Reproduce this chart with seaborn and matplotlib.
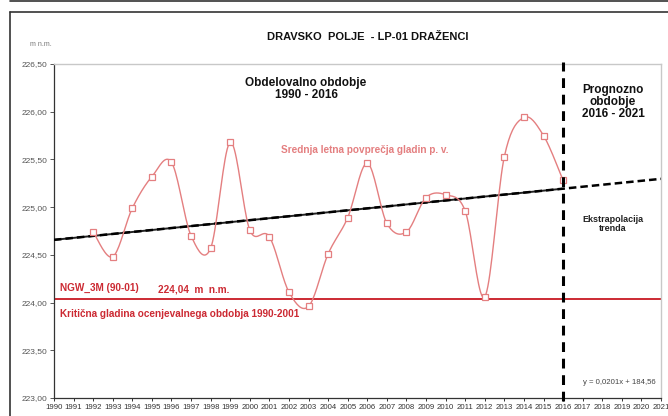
import numpy as np
import pandas as pd
import seaborn as sns
import matplotlib.pyplot as plt
from matplotlib.lines import Line2D
from matplotlib.ticker import FuncFormatter

# Annual mean groundwater levels (m n.m.)
years = list(range(1992, 2017))
levels = [224.74, 224.48, 224.99, 225.32, 225.47, 224.70, 224.57, 225.68, 224.76, 224.69,
          224.11, 223.96, 224.51, 224.89, 225.46, 224.83, 224.74, 225.10, 225.13, 224.96,
          224.06, 225.53, 225.94, 225.75, 225.28]
critical_level = 224.04
x_range = (1990, 2021)
y_range = (223.0, 226.5)
split_year = 2016

W, H = 668, 416
PINK = '#e47f80'
RED = '#cc2a33'

sns.set_theme(style='white')
plt.rcParams['font.family'] = ['Liberation Sans', 'DejaVu Sans']

fig = plt.figure(figsize=(W / 100, H / 100), dpi=100)
ax = fig.add_axes([54 / W, 1 - 398 / H, (661 - 54) / W, (398 - 64) / H])

df = pd.DataFrame({'year': years, 'level': levels})


def catmull_rom(x, y, n=20):
    # smoothed line like the spreadsheet "smoothed line" option
    px = np.r_[x[0], x, x[-1]]
    py = np.r_[y[0], y, y[-1]]
    t = np.linspace(0, 1, n)
    xs, ys = [], []
    for i in range(1, len(px) - 2):
        for p, out in ((px, xs), (py, ys)):
            p0, p1, p2, p3 = p[i - 1], p[i], p[i + 1], p[i + 2]
            out.extend(0.5 * (2 * p1 + (-p0 + p2) * t + (2 * p0 - 5 * p1 + 4 * p2 - p3) * t ** 2
                              + (-p0 + 3 * p1 - 3 * p2 + p3) * t ** 3))
    return np.array(xs), np.array(ys)


# trend line from the data
slope, intercept = np.polyfit(df['year'], df['level'], 1)
tx_all = np.array([x_range[0], x_range[1]])
tx_obs = np.array([x_range[0], split_year])

# critical level
ax.axhline(critical_level, color=RED, lw=1.4, zorder=2)

# trend: solid over observed period, dashed extrapolation
ax.plot(tx_obs, slope * tx_obs + intercept, color='#222222', lw=1.4, zorder=3)
ax.plot(tx_all, slope * tx_all + intercept, color='black', lw=1.8, ls=(0, (3, 1.6)), zorder=3)

# smoothed annual means
sx, sy = catmull_rom(np.array(years, float), np.array(levels, float))
sns.lineplot(x=sx, y=sy, sort=False, color=PINK, lw=1.0, ax=ax, zorder=4)
ax.plot(df['year'], df['level'], ls='none', marker='s', ms=4.2, mfc='white', mec=PINK, mew=0.9, zorder=5)

# vertical split between observed and forecast periods
ax.plot([split_year, split_year], [y_range[0] - 0.03, y_range[1] + 0.02], color='black', lw=2.2,
        ls=(0, (3.2, 2.2)), clip_on=False, zorder=6)

ax.set_xlim(*x_range)
ax.set_ylim(*y_range)
ax.set_xticks(range(x_range[0], x_range[1] + 1))
ax.set_yticks(np.arange(223.0, 226.51, 0.5))
ax.yaxis.set_major_formatter(FuncFormatter(lambda v, p: f'{v:.2f}'.replace('.', ',')))
ax.tick_params(axis='x', labelsize=5.6, length=2.5, width=0.7, pad=1.5, colors='#333333', direction='out', bottom=True)
ax.tick_params(axis='y', labelsize=6, length=3, width=0.7, pad=2, colors='#555555', direction='out', left=True)
ax.set_xlabel('')
ax.set_ylabel('')
for side in ('left', 'bottom'):
    ax.spines[side].set_color('#333333')
    ax.spines[side].set_linewidth(0.9)
for side in ('top', 'right'):
    ax.spines[side].set_color('#c8c8c8')
    ax.spines[side].set_linewidth(1.0)


def ftext(x, y, s, **kw):
    fig.text(x / W, 1 - y / H, s, **kw)


ftext(368, 37, 'DRAVSKO  POLJE  - LP-01 DRAŽENCI', ha='center', va='center', fontsize=8, fontweight='bold', color='#111111')
ftext(30, 45, 'm n.m.', ha='left', va='center', fontsize=5, color='#777777')
ftext(306, 89, 'Obdelovalno obdobje\n1990 - 2016', ha='center', va='center', fontsize=8.5, fontweight='bold',
      color='#111111', linespacing=1.0)
ftext(613, 102, 'Prognozno\nobdobje\n2016 - 2021', ha='center', va='center', fontsize=8.5, fontweight='bold',
      color='#111111', linespacing=1.05)
ftext(365, 150, 'Srednja letna povprečja gladin p. v.', ha='center', va='center', fontsize=7.2,
      fontweight='bold', color=PINK)
ftext(613, 224, 'Ekstrapolacija\ntrenda', ha='center', va='center', fontsize=6.5, fontweight='bold',
      color='#222222', linespacing=1.05)
ftext(60, 288, 'NGW_3M (90-01)', ha='left', va='center', fontsize=7.2, fontweight='bold', color=RED)
ftext(158, 290, '224,04  m  n.m.', ha='left', va='center', fontsize=7.2, fontweight='bold', color=RED)
ftext(60, 314, 'Kritična gladina ocenjevalnega obdobja 1990-2001', ha='left', va='center', fontsize=7.2,
      fontweight='bold', color=RED)
ftext(583, 383, 'y = 0,0201x + 184,56', ha='left', va='center', fontsize=5.6, color='#444444')

# outer frame
for xs_, ys_ in (([10, W], [12, 12]), ([10, 10], [12, H]), ([10, W], [0.7, 0.7])):
    fig.add_artist(Line2D([x / W for x in xs_], [1 - y / H for y in ys_], color='#333333', lw=1.2))

fig.savefig('out.png', dpi=100)
